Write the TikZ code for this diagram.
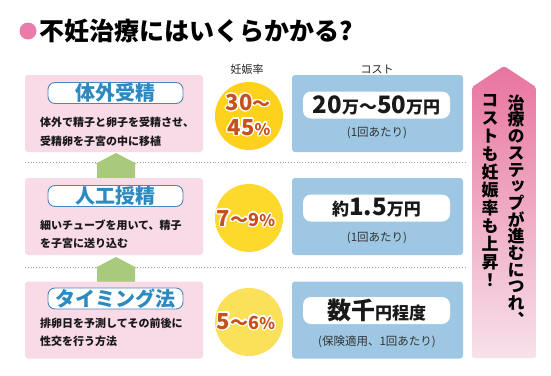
\documentclass[tikz,border=0pt]{standalone}
\usepackage{fontspec}
\setmainfont{Noto Sans CJK JP}
\newfontfamily\vfont[RawFeature=+vert]{Noto Sans CJK JP}
\usepackage{contour}
\contourlength{1.3pt}
\usetikzlibrary{calc}
\definecolor{tpink}{HTML}{E97CA9}
\definecolor{boxpink}{HTML}{F9DAE7}
\definecolor{bblue}{HTML}{4C87B9}
\definecolor{tblue}{HTML}{2D8AC0}
\definecolor{boxblue}{HTML}{9DC7E3}
\definecolor{agreen}{HTML}{A9C97C}
\definecolor{yelA}{HTML}{FDD11C}
\definecolor{yelB}{HTML}{FDD92B}
\definecolor{yelC}{HTML}{FBE15A}
\definecolor{pct}{HTML}{C5511F}
\definecolor{dotgray}{HTML}{A0A0A0}
\definecolor{atop}{HTML}{E8749F}
\definecolor{abot}{HTML}{F7E2EA}
\definecolor{subgray}{HTML}{333333}
\newcommand\bigA{\fontsize{24}{24}\selectfont\bfseries}
\newcommand\midA{\fontsize{17}{17}\selectfont\bfseries}
\newcommand\tildeA{\fontsize{18}{18}\selectfont\bfseries ～}
\begin{document}
\begin{tikzpicture}[x=1pt,y=-1pt,
  pinkbox/.style={fill=boxpink, rounded corners=3pt, minimum width=178pt, minimum height=77pt, inner sep=0pt},
  bluebox/.style={fill=boxblue, rounded corners=3pt, minimum width=171pt, minimum height=77pt, inner sep=0pt},
  badge/.style={draw=bblue, line width=0.9pt, fill=white, rounded corners=7pt, minimum width=135pt, minimum height=21pt, inner sep=0pt, font=\fontsize{20}{20}\selectfont\bfseries, text=tblue},
  desc/.style={anchor=west, inner sep=0pt, font=\fontsize{11}{11}\selectfont\bfseries, text=black!90},
  innerbox/.style={fill=white, rounded corners=8pt, minimum width=147pt, minimum height=27pt, inner sep=0pt},
  amount/.style={inner sep=0pt, text=black!90},
  subtxt/.style={inner sep=0pt, font=\fontsize{11.5}{11.5}\selectfont, text=subgray},
  ycirc/.style={circle, minimum size=68pt, inner sep=0pt},
  pcttxt/.style={inner sep=0pt, align=center, text=pct, font=\fontsize{22}{25}\selectfont\bfseries},
  colhead/.style={inner sep=0pt, font=\fontsize{11}{11}\selectfont, text=black!85},
  vtext/.style={inner sep=0pt, align=center, anchor=north, text=black}
]
\useasboundingbox (0,0) rectangle (551,375);
\fill[white] (0,0) rectangle (551,375);

% title
\fill[tpink] (28,31) circle (8.5);
\node[anchor=west, inner sep=0pt, font=\fontsize{25}{25}\selectfont\bfseries] (title) at (39,31) {不妊治療にはいくらかかる?};

% column headers
\node[colhead] (h1) at (247,69) {妊娠率};
\node[colhead] (h2) at (377,69) {コスト};

% dotted separators
\draw[dotgray, dotted, line width=0.8pt] (25,162) -- (465,162);
\draw[dotgray, dotted, line width=0.8pt] (25,267) -- (465,267);

% green arrows
\fill[agreen] (97,182) -- (97,164) -- (95,164) -- (116,153) -- (137,164) -- (135,164) -- (135,182) -- cycle;
\fill[agreen] (97,285) -- (97,268) -- (95,268) -- (116,257) -- (137,268) -- (135,268) -- (135,285) -- cycle;

% left boxes
\node[pinkbox] (b1) at (114,113.5) {};
\node[pinkbox] (b2) at (114,216.5) {};
\node[pinkbox] (b3) at (114,320) {};

\node[badge] (t1) at (115.5,93) {体外受精};
\node[badge] (t2) at (115.5,196) {人工授精};
\node[badge] (t3) at (115.5,298.5) {タイミング法};

\node[desc] (d1a) at (40,122) {体外で精子と卵子を受精させ、};
\node[desc] (d1b) at (40,141) {受精卵を子宮の中に移植};
\node[desc] (d2a) at (40,225) {細いチューブを用いて、精子};
\node[desc] (d2b) at (40,243) {を子宮に送り込む};
\node[desc] (d3a) at (40,323) {排卵日を予測してその前後に};
\node[desc] (d3b) at (40,341) {性交を行う方法};

% yellow circles
\node[ycirc, fill=yelA] (c1) at (249,116) {};
\node[ycirc, fill=yelB] (c2) at (249,218) {};
\node[ycirc, fill=yelC] (c3) at (249,322) {};
\node[pcttxt] (p1a) at (248,103) {\contour{white}{30\tildeA}};
\node[pcttxt] (p1b) at (249,128) {\contour{white}{45{\fontsize{16}{16}\selectfont\%}}};
\node[pcttxt] (p2) at (246,219) {\contour{white}{7\tildeA 9{\fontsize{16}{16}\selectfont\%}}};
\node[pcttxt] (p3) at (246,322) {\contour{white}{5\tildeA 6{\fontsize{16}{16}\selectfont\%}}};

% blue boxes
\node[bluebox] (k1) at (377.5,113.5) {};
\node[bluebox] (k2) at (377.5,216.5) {};
\node[bluebox] (k3) at (377.5,320) {};
\node[innerbox] (w1) at (376.5,105) {};
\node[innerbox] (w2) at (376.5,208) {};
\node[innerbox] (w3) at (376.5,310.5) {};
\node[amount] (a1) at (376.5,105) {{\bigA 20}{\midA 万}{\tildeA}{\bigA 50}{\midA 万円}};
\node[amount] (a2) at (376.5,208) {{\midA 約}{\bigA 1.5}{\midA 万円}};
\node[amount] (a3) at (376.5,310.5) {{\bigA 数千}{\midA 円程度}};
\node[subtxt] (s1) at (377,133) {(1回あたり)};
\node[subtxt] (s2) at (377,238) {(1回あたり)};
\node[subtxt] (s3) at (377,342) {(保険適用、1回あたり)};

% right arrow
\shade[top color=atop, bottom color=abot, rounded corners=2pt] (472,358) -- (472,87) -- (504,66) -- (536,87) -- (536,358) -- cycle;
\node[vtext, font=\fontsize{17}{16.7}\vfont\bfseries] (v1) at (516,94.5) {治\\療\\の\\ス\\テ\\ッ\\プ\\が\\進\\む\\に\\つ\\れ\\、};
\node[vtext, font=\fontsize{17}{18}\vfont\bfseries] (v2) at (490,94.5) {コ\\ス\\ト\\も\\妊\\娠\\率\\も\\上\\昇\\！};
\end{tikzpicture}
\end{document}
